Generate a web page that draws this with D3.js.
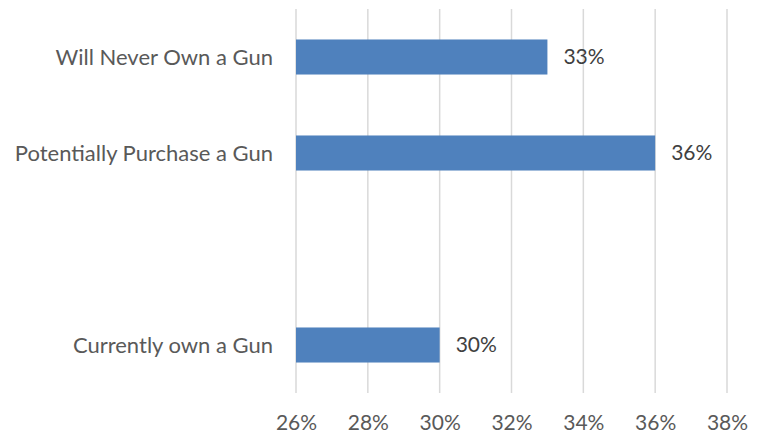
<!DOCTYPE html>
<html>
<head>
<meta charset="utf-8">
<script src="https://cdn.jsdelivr.net/npm/d3@7"></script>
<style>
  body { margin: 0; background: #fff; }
  text { font-family: Lato, "Open Sans", sans-serif; }
</style>
</head>
<body>
<svg id="chart"></svg>
<script>
// categories top to bottom, the empty one is a blank slot in the original
const categories = ["Will Never Own a Gun", "Potentially Purchase a Gun", "", "Currently own a Gun"];
const values = [0.33, 0.36, null, 0.30];
const ticks = [0.26, 0.28, 0.30, 0.32, 0.34, 0.36, 0.38];

const width = 762;
const height = 436;
const margin = { top: 9, right: 35, bottom: 43, left: 296 };

const svg = d3.select("#chart")
    .attr("width", width)
    .attr("height", height);

const x = d3.scaleLinear()
    .domain([0.26, 0.38])
    .range([margin.left, width - margin.right]);

const y = d3.scaleBand()
    .domain(categories.map((d, i) => i))
    .range([margin.top, height - margin.bottom])
    .paddingInner(0.635)
    .paddingOuter(0.3175);

// gridlines
svg.append("g")
    .selectAll("line")
    .data(ticks)
    .enter().append("line")
    .attr("x1", d => x(d))
    .attr("x2", d => x(d))
    .attr("y1", margin.top)
    .attr("y2", height - margin.bottom)
    .attr("stroke", "#d9d9d9")
    .attr("stroke-width", 1.5);

const rows = categories.map((c, i) => ({ label: c, value: values[i], i }))
    .filter(d => d.value !== null);

// bars
svg.append("g")
    .selectAll("rect")
    .data(rows)
    .enter().append("rect")
    .attr("x", x(0.26))
    .attr("y", d => y(d.i))
    .attr("width", d => x(d.value) - x(0.26))
    .attr("height", y.bandwidth())
    .attr("fill", "#4f81bd");

// category labels
svg.append("g")
    .selectAll("text")
    .data(rows)
    .enter().append("text")
    .attr("x", margin.left - 23)
    .attr("y", d => y(d.i) + y.bandwidth() / 2)
    .attr("dy", "0.35em")
    .attr("text-anchor", "end")
    .attr("font-size", 22)
    .attr("fill", "#595959")
    .text(d => d.label);

// value labels
svg.append("g")
    .selectAll("text")
    .data(rows)
    .enter().append("text")
    .attr("x", d => x(d.value) + 16)
    .attr("y", d => y(d.i) + y.bandwidth() / 2)
    .attr("dy", "0.35em")
    .attr("font-size", 21)
    .attr("fill", "#404040")
    .text(d => d3.format(".0%")(d.value));

// x axis tick labels
const xAxis = d3.axisBottom(x)
    .tickValues(ticks)
    .tickFormat(d3.format(".0%"))
    .tickSize(0)
    .tickPadding(0);

const axisG = svg.append("g")
    .attr("transform", `translate(0, ${height - margin.bottom})`)
    .call(xAxis);
axisG.select(".domain").remove();
axisG.selectAll("text")
    .attr("y", 30)
    .attr("dy", "0.35em")
    .attr("font-size", 21)
    .attr("font-family", "Lato, 'Open Sans', sans-serif")
    .attr("fill", "#595959");
</script>
</body>
</html>
